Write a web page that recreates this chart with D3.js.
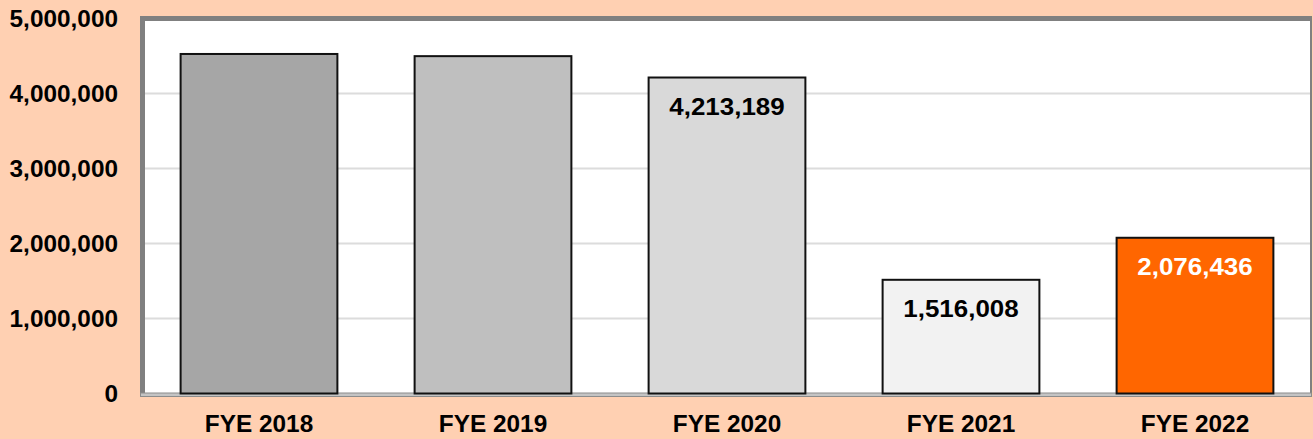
<!DOCTYPE html>
<html>
<head>
<meta charset="utf-8">
<script src="https://cdn.jsdelivr.net/npm/d3@7"></script>
<style>
  body { margin: 0; background: #FFD0B2; }
  svg { display: block; }
</style>
</head>
<body>
<svg width="1313" height="439"></svg>
<script>
// data
var years = ["FYE 2018", "FYE 2019", "FYE 2020", "FYE 2021", "FYE 2022"];
var values = [4527000, 4498000, 4213189, 1516008, 2076436];
var labelShown = [false, false, true, true, true];
var barColors = ["#A6A6A6", "#BFBFBF", "#D9D9D9", "#F2F2F2", "#FF6600"];
var labelColors = ["#000", "#000", "#000", "#000", "#fff"];
var yTicks = [0, 1000000, 2000000, 3000000, 4000000, 5000000];

var svg = d3.select("svg"),
    width = +svg.attr("width"),
    height = +svg.attr("height");

var plotLeft = 142, plotRight = 1312, plotTop = 18.5, plotBottom = 393.5;
var font = "Liberation Sans, Arial, sans-serif";

var x = d3.scaleBand(years, [plotLeft, plotRight]).paddingInner(0.33).paddingOuter(0.165);
var y = d3.scaleLinear([0, 5000000], [plotBottom, plotTop]);

svg.append("rect").attr("width", width).attr("height", height).attr("fill", "#FFD0B2");

// plot area with its frame
svg.append("rect")
    .attr("x", 140).attr("y", 16)
    .attr("width", 1172).attr("height", 380)
    .attr("fill", "#808080");
svg.append("rect")
    .attr("x", 145).attr("y", 21)
    .attr("width", 1165).attr("height", 372)
    .attr("fill", "white");

// gridlines
svg.append("g")
    .selectAll("line")
    .data(yTicks.slice(1, -1))
    .enter().append("line")
    .attr("x1", 145).attr("x2", 1310)
    .attr("y1", d => y(d)).attr("y2", d => y(d))
    .attr("stroke", "#DCDCDC")
    .attr("stroke-width", 2);

// floor at the bottom
svg.append("rect")
    .attr("x", 140.5).attr("y", 393)
    .attr("width", 1171).attr("height", 3.5)
    .attr("fill", "#C4C4C4")
    .attr("stroke", "#8C8C8C")
    .attr("stroke-width", 1);

// bars
svg.append("g")
    .selectAll("rect")
    .data(values)
    .enter().append("rect")
    .attr("x", (d, i) => x(years[i]))
    .attr("y", d => y(d))
    .attr("width", x.bandwidth())
    .attr("height", d => y(0) - y(d))
    .attr("fill", (d, i) => barColors[i])
    .attr("stroke", "#111")
    .attr("stroke-width", 2);

// value labels inside the bars
var fmt = d3.format(",");
svg.append("g")
    .selectAll("text")
    .data(values.filter((d, i) => labelShown[i]))
    .enter().append("text")
    .attr("x", d => x(years[values.indexOf(d)]) + x.bandwidth() / 2)
    .attr("y", d => y(d) + 37)
    .attr("text-anchor", "middle")
    .attr("font-family", font)
    .attr("font-weight", "bold")
    .attr("font-size", "24px")
    .attr("fill", d => labelColors[values.indexOf(d)])
    .attr("data-stretch", 1.08)
    .text(d => fmt(d));

// y axis
svg.append("g")
    .attr("transform", "translate(118,0)")
    .call(d3.axisLeft(y).tickValues(yTicks).tickFormat(fmt).tickSize(0).tickPadding(0))
    .call(g => g.select(".domain").remove())
    .selectAll("text")
    .attr("dy", "0.36em")
    .attr("fill", "#000")
    .attr("font-family", font)
    .attr("font-weight", "bold")
    .attr("font-size", "23px")
    .attr("data-stretch", 1.06);

// x axis
svg.append("g")
    .attr("transform", "translate(0," + 432 + ")")
    .call(d3.axisBottom(x).tickSize(0).tickPadding(0))
    .call(g => g.select(".domain").remove())
    .selectAll("text")
    .attr("dy", 0)
    .attr("fill", "#000")
    .attr("font-family", font)
    .attr("font-weight", "bold")
    .attr("font-size", "23px")
    .attr("data-stretch", 1.06);

// the original text is a bit wider than the font, stretch it
svg.selectAll("text[data-stretch]").each(function() {
    var w = this.getComputedTextLength();
    var s = +this.getAttribute("data-stretch");
    d3.select(this).attr("textLength", w * s).attr("lengthAdjust", "spacingAndGlyphs");
});
</script>
</body>
</html>
